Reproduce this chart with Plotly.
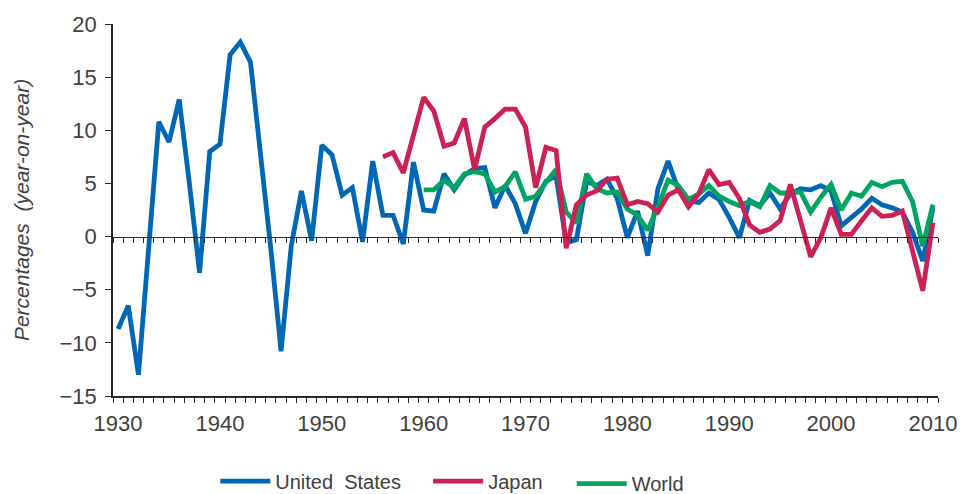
import plotly.graph_objects as go

# ---------------- data ----------------
us_years = list(range(1930, 2011))
us_values = [
    -8.7, -6.5, -13.0, -1.3, 10.8, 8.9, 12.9, 5.0, -3.4, 8.0,      # 1930-1939
    8.7, 17.1, 18.3, 16.4, 7.8, -1.2, -10.8, -0.9, 4.3, -0.4,      # 1940-1949
    8.6, 7.7, 3.9, 4.6, -0.5, 7.1, 2.0, 2.0, -0.7, 7.0,            # 1950-1959
    2.5, 2.4, 5.9, 4.4, 5.8, 6.4, 6.5, 2.7, 4.8, 3.1,              # 1960-1969
    0.3, 3.3, 5.2, 5.7, -0.6, -0.3, 5.2, 4.8, 5.4, 3.6,            # 1970-1979
    -0.1, 2.4, -1.8, 4.5, 7.1, 4.4, 3.4, 3.2, 4.1, 3.5,            # 1980-1989
    1.8, -0.1, 3.4, 2.9, 4.1, 2.6, 4.0, 4.5, 4.4, 4.8,             # 1990-1999
    4.3, 1.0, 1.8, 2.6, 3.6, 3.0, 2.7, 2.3, 0.4, -2.3,             # 2000-2009
    2.7,                                                            # 2010
]

japan_years = list(range(1956, 2011))
japan_values = [
    7.5, 7.9, 6.0, 9.5,                                             # 1956-1959
    13.1, 11.8, 8.5, 8.8, 11.1, 6.3, 10.3, 11.1, 12.0, 12.0,       # 1960-1969
    10.3, 4.6, 8.4, 8.1, -1.1, 3.0, 3.9, 4.3, 5.4, 5.5,            # 1970-1979
    3.0, 3.3, 3.1, 2.3, 3.9, 4.4, 2.8, 4.0, 6.3, 4.9,              # 1980-1989
    5.1, 3.6, 1.1, 0.4, 0.7, 1.5, 4.9, 1.5, -1.9, -0.1,            # 1990-1999
    2.7, 0.2, 0.2, 1.5, 2.7, 1.9, 2.0, 2.4, -1.3, -5.1,            # 2000-2009
    1.3,                                                            # 2010
]

world_years = list(range(1960, 2011))
world_values = [
    4.4, 4.4, 5.3, 4.6, 5.9, 6.1, 5.9, 4.2, 4.7, 6.1,              # 1960-1969
    3.5, 3.8, 5.1, 6.3, 2.3, 1.3, 5.9, 4.5, 4.1, 4.2,              # 1970-1979
    2.6, 2.0, 0.6, 2.8, 5.3, 4.8, 3.5, 4.0, 4.8, 3.8,              # 1980-1989
    3.3, 2.9, 3.3, 2.8, 4.8, 4.1, 4.1, 4.2, 2.3, 3.7,              # 1990-1999
    4.9, 2.5, 4.1, 3.8, 5.1, 4.7, 5.1, 5.2, 3.3, -0.9,             # 2000-2009
    3.0,                                                            # 2010
]

x_tick_labels = [1930, 1940, 1950, 1960, 1970, 1980, 1990, 2000, 2010]
y_tick_values = [-15, -10, -5, 0, 5, 10, 15, 20]

# ---------------- styling ----------------
FONT = "Arial, Liberation Sans, sans-serif"
TXT = "#404040"
AX = "#262626"
C_US = "#0067B4"
C_JP = "#CB2154"
C_WD = "#00A562"
LW = 4.8

x_min, x_max = us_years[0] - 0.5, us_years[-1] + 0.5
year_ticks = [y - 0.5 for y in range(us_years[0], us_years[-1] + 2)]

fig = go.Figure()
fig.add_trace(go.Scatter(x=us_years, y=us_values, mode="lines", name="United\u00a0 States",
                         line=dict(color=C_US, width=LW), legend="legend"))
fig.add_trace(go.Scatter(x=world_years, y=world_values, mode="lines", name="World",
                         line=dict(color=C_WD, width=LW), legend="legend3"))
fig.add_trace(go.Scatter(x=japan_years, y=japan_values, mode="lines", name="Japan",
                         line=dict(color=C_JP, width=LW), legend="legend2"))
# helper trace so that the zero-line axis is drawn
fig.add_trace(go.Scatter(x=[], y=[], xaxis="x2", yaxis="y", showlegend=False,
                         hoverinfo="skip"))

leg_common = dict(orientation="h", yref="container", yanchor="middle", xanchor="left",
                  font=dict(size=20, color=TXT), itemwidth=50,
                  bgcolor="rgba(0,0,0,0)")

fig.update_layout(
    width=965, height=494,
    margin=dict(l=113, r=27, t=24, b=98),
    paper_bgcolor="white", plot_bgcolor="white",
    font=dict(family=FONT, color=TXT, size=22),
    showlegend=True,
    legend=dict(x=0.124, y=0.026, **leg_common),
    legend2=dict(x=0.382, y=0.026, **leg_common),
    legend3=dict(x=0.556, y=0.021, **leg_common),
    xaxis=dict(
        range=[x_min, x_max], showgrid=False, zeroline=False, automargin=False,
        showline=True, linecolor=AX, linewidth=1.6,
        tickmode="array", tickvals=x_tick_labels,
        ticktext=[str(v) for v in x_tick_labels],
        ticks="", ticklabelstandoff=7, tickfont=dict(size=22, color=TXT),
        minor=dict(tickmode="array", tickvals=year_ticks, ticks="outside",
                   ticklen=5, tickwidth=1, tickcolor=AX, showgrid=False),
    ),
    xaxis2=dict(
        range=[x_min, x_max], overlaying="x", anchor="free", automargin=False,
        position=(0 - y_tick_values[0]) / (y_tick_values[-1] - y_tick_values[0]),
        showgrid=False, zeroline=False, showticklabels=False,
        showline=True, linecolor=AX, linewidth=1.4,
        tickmode="array", tickvals=year_ticks, ticks="outside",
        ticklen=5, tickwidth=1, tickcolor=AX,
    ),
    yaxis=dict(
        range=[y_tick_values[0], y_tick_values[-1]], showgrid=False, zeroline=False,
        automargin=False,
        showline=True, linecolor=AX, linewidth=1.6,
        tickmode="array", tickvals=y_tick_values,
        ticks="outside", ticklen=6, tickwidth=1, tickcolor=AX,
        ticklabelstandoff=4,
        tickfont=dict(size=22, color=TXT),
        title=dict(text="<i>Percentages\u00a0 (year-on-year)</i>",
                   font=dict(size=21, color=TXT), standoff=24),
    ),
)

fig.write_html(
    "out.html",
    config={"displayModeBar": False},
    post_script="document.body.style.margin='0';document.body.style.padding='0';"
                "document.body.style.overflow='hidden';",
)
